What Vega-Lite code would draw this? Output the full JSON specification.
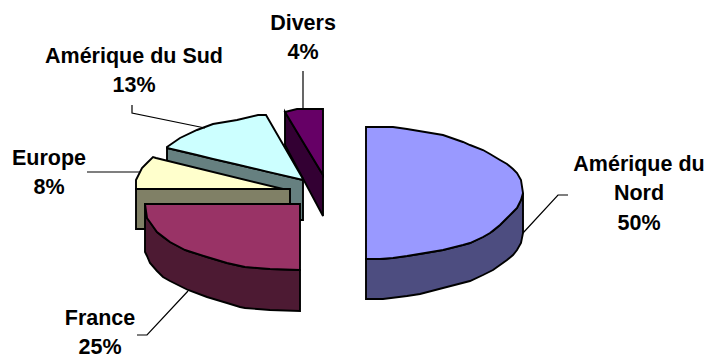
{
  "$schema": "https://vega.github.io/schema/vega-lite/v6.json",
  "width": 706,
  "height": 356,
  "padding": 0,
  "autosize": "none",
  "background": "white",
  "view": {"stroke": null},
  "datasets": {
    "faces": [
      {"face": "Divers côté", "x": 285, "y": 112, "y2": 145},
      {"face": "Divers côté", "x": 323, "y": 175, "y2": 216},
      {"face": "Divers dessus", "x": 285, "y": 112, "y2": 112},
      {"face": "Divers dessus", "x": 297, "y": 109, "y2": 132},
      {"face": "Divers dessus", "x": 323, "y": 109, "y2": 175},
      {"face": "Sud côté", "x": 167, "y": 148, "y2": 220},
      {"face": "Sud côté", "x": 303, "y": 180, "y2": 220},
      {"face": "Sud dessus", "x": 167, "y": 147, "y2": 148},
      {"face": "Sud dessus", "x": 180, "y": 138, "y2": 151},
      {"face": "Sud dessus", "x": 197, "y": 130, "y2": 155},
      {"face": "Sud dessus", "x": 213, "y": 124, "y2": 159},
      {"face": "Sud dessus", "x": 237, "y": 120, "y2": 164.5},
      {"face": "Sud dessus", "x": 258, "y": 115, "y2": 169.4},
      {"face": "Sud dessus", "x": 266, "y": 115, "y2": 171.3},
      {"face": "Sud dessus", "x": 303, "y": 179, "y2": 180},
      {"face": "Europe dessus", "x": 136, "y": 180, "y2": 189},
      {"face": "Europe dessus", "x": 142, "y": 168, "y2": 189},
      {"face": "Europe dessus", "x": 147, "y": 163, "y2": 189},
      {"face": "Europe dessus", "x": 153, "y": 157, "y2": 189},
      {"face": "Europe dessus", "x": 156, "y": 158, "y2": 189},
      {"face": "Europe dessus", "x": 283, "y": 189, "y2": 189},
      {"face": "Europe côté", "x": 136, "y": 189, "y2": 229},
      {"face": "Europe côté", "x": 290, "y": 189, "y2": 229},
      {"face": "France côté", "x": 145, "y": 204, "y2": 252},
      {"face": "France côté", "x": 147, "y": 218, "y2": 256},
      {"face": "France côté", "x": 150, "y": 222, "y2": 263},
      {"face": "France côté", "x": 157, "y": 232, "y2": 271},
      {"face": "France côté", "x": 163, "y": 237, "y2": 277},
      {"face": "France côté", "x": 170, "y": 242, "y2": 281},
      {"face": "France côté", "x": 188, "y": 251, "y2": 290},
      {"face": "France côté", "x": 207, "y": 257, "y2": 297},
      {"face": "France côté", "x": 227, "y": 263, "y2": 303},
      {"face": "France côté", "x": 240, "y": 266, "y2": 307},
      {"face": "France côté", "x": 245, "y": 267, "y2": 308},
      {"face": "France côté", "x": 270, "y": 269, "y2": 310},
      {"face": "France côté", "x": 300, "y": 270, "y2": 311},
      {"face": "France dessus", "x": 145, "y": 204, "y2": 204},
      {"face": "France dessus", "x": 147, "y": 204, "y2": 218},
      {"face": "France dessus", "x": 157, "y": 204, "y2": 232},
      {"face": "France dessus", "x": 170, "y": 204, "y2": 242},
      {"face": "France dessus", "x": 185, "y": 204, "y2": 250},
      {"face": "France dessus", "x": 207, "y": 204, "y2": 257},
      {"face": "France dessus", "x": 227, "y": 204, "y2": 263},
      {"face": "France dessus", "x": 245, "y": 204, "y2": 267},
      {"face": "France dessus", "x": 270, "y": 204, "y2": 269},
      {"face": "France dessus", "x": 300, "y": 204, "y2": 270},
      {"face": "Nord côté", "x": 366, "y": 259, "y2": 299},
      {"face": "Nord côté", "x": 383, "y": 259, "y2": 299},
      {"face": "Nord côté", "x": 407, "y": 256, "y2": 296},
      {"face": "Nord côté", "x": 420, "y": 254, "y2": 294},
      {"face": "Nord côté", "x": 443, "y": 250, "y2": 288},
      {"face": "Nord côté", "x": 470, "y": 243, "y2": 281},
      {"face": "Nord côté", "x": 483, "y": 237, "y2": 275},
      {"face": "Nord côté", "x": 493, "y": 231, "y2": 270},
      {"face": "Nord côté", "x": 500, "y": 225, "y2": 265},
      {"face": "Nord côté", "x": 507, "y": 218, "y2": 260},
      {"face": "Nord côté", "x": 513, "y": 212, "y2": 255},
      {"face": "Nord côté", "x": 517, "y": 208, "y2": 250},
      {"face": "Nord côté", "x": 521, "y": 200, "y2": 243},
      {"face": "Nord côté", "x": 523, "y": 193, "y2": 233},
      {"face": "Nord dessus", "x": 366, "y": 127, "y2": 259},
      {"face": "Nord dessus", "x": 380, "y": 127, "y2": 259},
      {"face": "Nord dessus", "x": 393, "y": 127, "y2": 258},
      {"face": "Nord dessus", "x": 407, "y": 129, "y2": 256},
      {"face": "Nord dessus", "x": 425, "y": 132, "y2": 253},
      {"face": "Nord dessus", "x": 443, "y": 135, "y2": 250},
      {"face": "Nord dessus", "x": 463, "y": 142, "y2": 245},
      {"face": "Nord dessus", "x": 470, "y": 145, "y2": 243},
      {"face": "Nord dessus", "x": 483, "y": 150, "y2": 237},
      {"face": "Nord dessus", "x": 490, "y": 154, "y2": 233},
      {"face": "Nord dessus", "x": 500, "y": 160, "y2": 225},
      {"face": "Nord dessus", "x": 507, "y": 164, "y2": 218},
      {"face": "Nord dessus", "x": 513, "y": 169, "y2": 212},
      {"face": "Nord dessus", "x": 517, "y": 173, "y2": 208},
      {"face": "Nord dessus", "x": 521, "y": 180, "y2": 200},
      {"face": "Nord dessus", "x": 523, "y": 193, "y2": 193}
    ],
    "leaders": [
      {"part": "Nord", "step": 1, "x": 568, "y": 195},
      {"part": "Nord", "step": 2, "x": 558, "y": 195},
      {"part": "Nord", "step": 3, "x": 523, "y": 233},
      {"part": "France", "step": 1, "x": 137, "y": 335},
      {"part": "France", "step": 2, "x": 147, "y": 335},
      {"part": "France", "step": 3, "x": 188, "y": 291},
      {"part": "Europe", "step": 1, "x": 87, "y": 172},
      {"part": "Europe", "step": 2, "x": 140, "y": 172},
      {"part": "Sud", "step": 1, "x": 132, "y": 105},
      {"part": "Sud", "step": 2, "x": 132, "y": 113},
      {"part": "Sud", "step": 3, "x": 205, "y": 128},
      {"part": "Divers", "step": 1, "x": 303, "y": 71},
      {"part": "Divers", "step": 2, "x": 303, "y": 109}
    ],
    "labels": [
      {"label": "Amérique du|Nord|50%", "share": 50, "x": 639, "y": 171},
      {"label": "France|25%", "share": 25, "x": 100, "y": 325},
      {"label": "Europe|8%", "share": 8, "x": 49, "y": 165},
      {"label": "Amérique du Sud|13%", "share": 13, "x": 134, "y": 63},
      {"label": "Divers|4%", "share": 4, "x": 303, "y": 30}
    ]
  },
  "layer": [
    {
      "data": {"name": "faces"},
      "mark": {"type": "area", "orient": "vertical", "stroke": "black", "strokeWidth": 1.9, "strokeJoin": "miter", "opacity": 1},
      "encoding": {
        "x": {"field": "x", "type": "quantitative", "scale": {"domain": [0, 706], "nice": false, "zero": false}, "axis": null},
        "y": {"field": "y", "type": "quantitative", "scale": {"domain": [356, 0], "nice": false, "zero": false}, "axis": null},
        "y2": {"field": "y2"},
        "color": {
          "field": "face",
          "type": "nominal",
          "legend": null,
          "sort": null,
          "scale": {
            "domain": ["Divers côté", "Divers dessus", "Sud côté", "Sud dessus", "Europe dessus", "Europe côté", "France côté", "France dessus", "Nord côté", "Nord dessus"],
            "range": ["#330033", "#660066", "#668080", "#CCFFFF", "#FFFFCC", "#808066", "#4D1A33", "#993366", "#4D4D80", "#9999FF"]
          }
        }
      }
    },
    {
      "data": {"name": "leaders"},
      "mark": {"type": "line", "stroke": "black", "strokeWidth": 1.2},
      "encoding": {
        "x": {"field": "x", "type": "quantitative"},
        "y": {"field": "y", "type": "quantitative"},
        "detail": {"field": "part"},
        "order": {"field": "step"}
      }
    },
    {
      "data": {"name": "labels"},
      "mark": {"type": "text", "font": "Liberation Sans", "fontWeight": "bold", "fontSize": 21.5, "align": "center", "baseline": "alphabetic", "lineBreak": "|", "lineHeight": 29.4, "color": "black"},
      "encoding": {
        "x": {"field": "x", "type": "quantitative"},
        "y": {"field": "y", "type": "quantitative"},
        "text": {"field": "label"}
      }
    }
  ]
}
